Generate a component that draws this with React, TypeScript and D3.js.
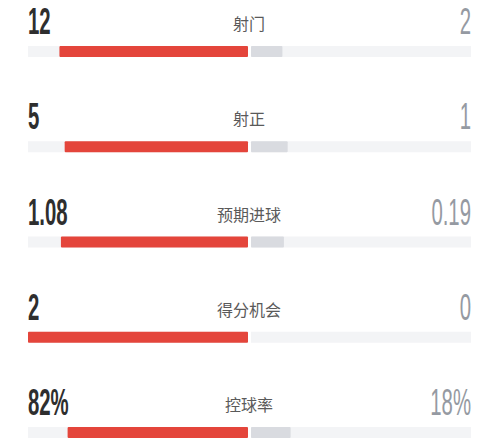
import * as d3 from "d3";

const labels = ["射门", "射正", "预期进球", "得分机会", "控球率"];
const homeValues = [12, 5, 1.08, 2, 82];
const awayValues = [2, 1, 0.19, 0, 18];
const homeText = ["12", "5", "1.08", "2", "82%"];
const awayText = ["2", "1", "0.19", "0", "18%"];

const WIDTH = 500;
const HEIGHT = 440;
const BAR_H = 11;
const NUM_FONT = "'Liberation Sans', 'DejaVu Sans', sans-serif";
const CJK_FONT = "'Noto Sans CJK SC', 'Noto Sans', sans-serif";

export default function App() {
  // left half grows from the centre towards the left, right half the other way
  const xHome = d3.scaleLinear().domain([0, 1]).range([248, 28]);
  const xAway = d3.scaleLinear().domain([0, 1]).range([251, 471]);
  const yRow = d3.scalePoint().domain(labels).range([46, 427]);

  const rows = labels.map((label, i) => {
    const y = yRow(label) as number;
    const total = homeValues[i] + awayValues[i];
    const hs = total ? homeValues[i] / total : 0;
    const as = total ? awayValues[i] / total : 0;
    return (
      <g key={label}>
        <rect x={xHome(1)} y={y} width={xHome(0) - xHome(1)} height={BAR_H} fill="#f3f4f6" />
        <rect x={xAway(0)} y={y} width={xAway(1) - xAway(0)} height={BAR_H} fill="#f3f4f6" />
        <rect x={xHome(hs)} y={y} width={xHome(0) - xHome(hs)} height={BAR_H} fill="#e4453b" rx={1} />
        {as > 0 && (
          <rect x={xAway(0)} y={y} width={xAway(as) - xAway(0)} height={BAR_H} fill="#d9dbe0" rx={1} />
        )}
        <text
          transform={`translate(${xHome(1)},${y - 12}) scale(0.55,1)`}
          fontFamily={NUM_FONT}
          fontSize={37}
          fontWeight="bold"
          fill="#2e2e2e"
        >
          {homeText[i]}
        </text>
        <text
          transform={`translate(${xAway(1)},${y - 12}) scale(0.55,1)`}
          textAnchor="end"
          fontFamily={NUM_FONT}
          fontSize={37}
          fill="#959aa2"
        >
          {awayText[i]}
        </text>
        <text
          x={249}
          y={y - 16}
          textAnchor="middle"
          fontFamily={CJK_FONT}
          fontSize={16}
          fill="#5a5a5a"
        >
          {label}
        </text>
      </g>
    );
  });

  return (
    <div>
      <svg
        width={WIDTH}
        height={HEIGHT}
        style={{ position: "absolute", left: 0, top: 0, background: "#ffffff" }}
      >
        {rows}
      </svg>
    </div>
  );
}
